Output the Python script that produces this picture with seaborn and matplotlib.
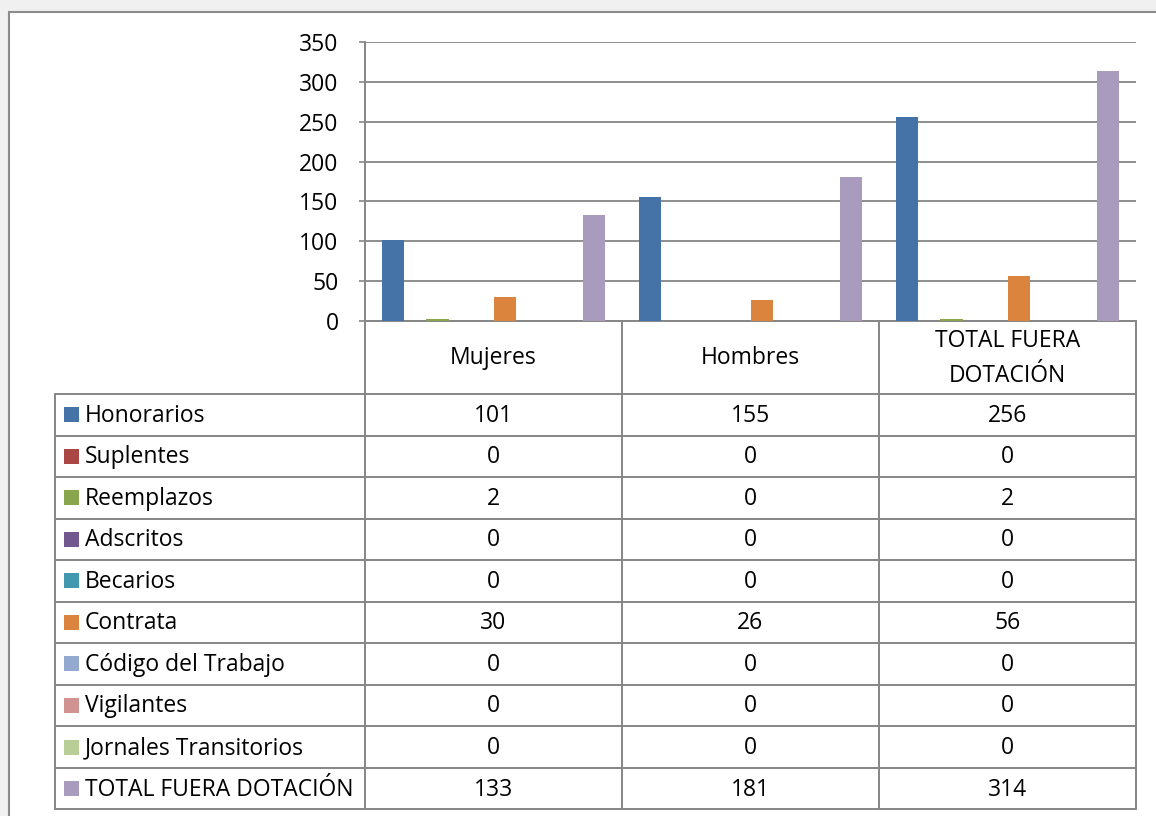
import numpy as np
import pandas as pd
import matplotlib
matplotlib.use("Agg")
import matplotlib.pyplot as plt
import seaborn as sns
from matplotlib.patches import Rectangle

# datos
categorias = ["Mujeres", "Hombres", "TOTAL FUERA DOTACIÓN"]
etiquetas_cat = ["Mujeres", "Hombres", "TOTAL FUERA\nDOTACIÓN"]
series = ["Honorarios", "Suplentes", "Reemplazos", "Adscritos", "Becarios",
          "Contrata", "Código del Trabajo", "Vigilantes",
          "Jornales Transitorios", "TOTAL FUERA DOTACIÓN"]
honorarios = [101, 155, 256]
suplentes = [0, 0, 0]
reemplazos = [2, 0, 2]
adscritos = [0, 0, 0]
becarios = [0, 0, 0]
contrata = [30, 26, 56]
codigo_trabajo = [0, 0, 0]
vigilantes = [0, 0, 0]
jornales = [0, 0, 0]
total_fuera = [133, 181, 314]
valores = [honorarios, suplentes, reemplazos, adscritos, becarios,
           contrata, codigo_trabajo, vigilantes, jornales, total_fuera]
colores = ["#4572A7", "#AA4643", "#89A54E", "#71588F", "#4198AF",
           "#DB843D", "#93A9CF", "#D19392", "#B9CD96", "#A99BBD"]

df = pd.DataFrame([(s, c, v) for s, vals in zip(series, valores)
                   for c, v in zip(categorias, vals)],
                  columns=["serie", "categoria", "valor"])
palette = dict(zip(series, colores))

sns.set_style("white")
plt.rcParams["font.family"] = ["Open Sans", "DejaVu Sans"]
plt.rcParams["text.color"] = "black"
plt.rcParams["ytick.labelcolor"] = "black"

W, H = 1156, 816
fig = plt.figure(figsize=(W / 100, H / 100), dpi=100, facecolor="#f0f0f0")

# capa de fondo / tabla en pixeles
ov = fig.add_axes([0, 0, 1, 1])
ov.set_xlim(0, W)
ov.set_ylim(H, 0)
ov.axis("off")
ov.add_patch(Rectangle((9, 12), W, H, fc="white", ec="#8c8c8c", lw=1.5))

gris = "#868686"
x_cols = [365, 622, 879, 1136]
x_lab = 55
y_head = 321
y0 = 394
paso = 41.53
n = len(series)

# tabla
for k in range(n + 1):
    y = y0 + k * paso
    ov.plot([x_lab, x_cols[-1]], [y, y], color=gris, lw=1.4)
ov.plot([x_cols[0], x_cols[-1]], [y_head, y_head], color=gris, lw=1.4)
for x in x_cols:
    ov.plot([x, x], [y_head, y0 + n * paso], color=gris, lw=1.4)
ov.plot([x_lab, x_lab], [y0, y0 + n * paso], color=gris, lw=1.4)

fs = 16.5
for j, lab in enumerate(etiquetas_cat):
    xc = (x_cols[j] + x_cols[j + 1]) / 2
    ov.text(xc, (y_head + y0) / 2 + 1, lab, ha="center", va="center",
            fontsize=fs, linespacing=1.65)

for i, (s, vals) in enumerate(zip(series, valores)):
    yc = y0 + (i + 0.5) * paso
    ov.add_patch(Rectangle((64, yc - 7.5), 15, 15, fc=colores[i], ec="none"))
    ov.text(85, yc + 1, s, ha="left", va="center", fontsize=fs)
    for j, v in enumerate(vals):
        xc = (x_cols[j] + x_cols[j + 1]) / 2
        ov.text(xc, yc + 1, str(v), ha="center", va="center", fontsize=fs)

# grafico de barras
ax = fig.add_axes([x_cols[0] / W, (H - y_head) / H,
                   (x_cols[-1] - x_cols[0]) / W, (y_head - 42) / H])
ax.set_zorder(2)
ax.patch.set_alpha(0)
sns.barplot(data=df, x="categoria", y="valor", hue="serie",
            order=categorias, hue_order=series, palette=palette,
            width=10 / 11.5, linewidth=0, saturation=1, legend=False, ax=ax)
ax.set_xlim(-0.5, 2.5)
ax.set_ylim(0, 350)
ax.set_yticks(range(0, 351, 50))
ax.set_xticks([])
ax.set_xlabel("")
ax.set_ylabel("")
ax.yaxis.grid(True, color=gris, lw=1.3)
ax.set_axisbelow(True)
for sp in ["top", "right", "bottom"]:
    ax.spines[sp].set_visible(False)
ax.spines["left"].set_color(gris)
ax.spines["left"].set_linewidth(1.4)
ax.tick_params(axis="y", length=4, width=1.2, color=gris, pad=15,
               labelsize=fs, labelcolor="black", left=True)

fig.savefig("out.png", dpi=100, facecolor=fig.get_facecolor())
